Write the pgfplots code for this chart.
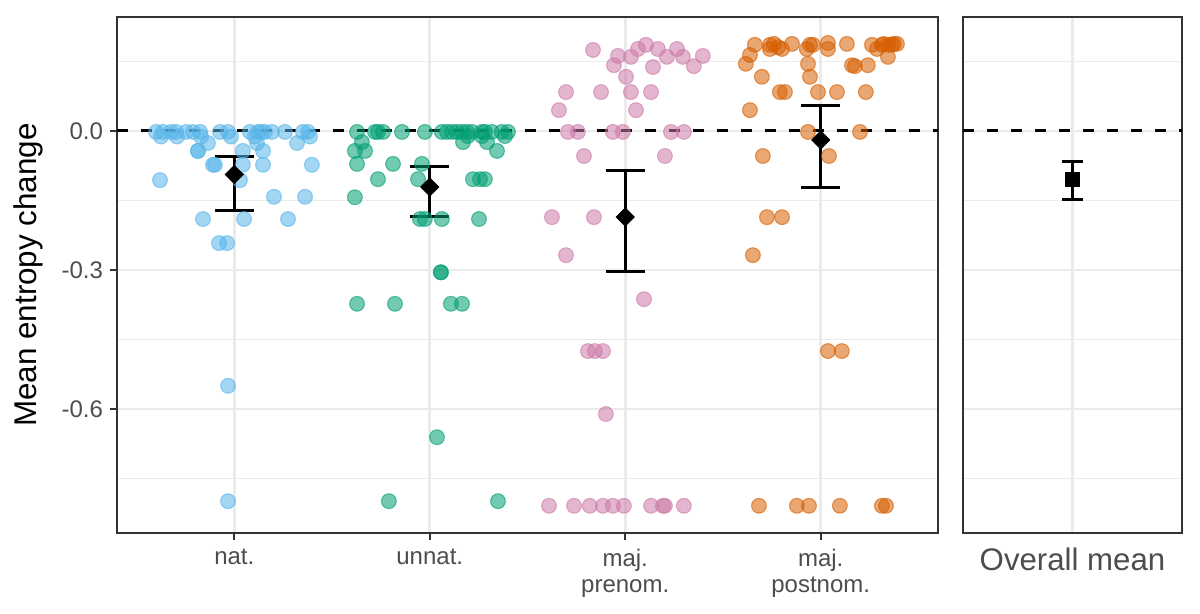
\documentclass[border=0pt]{standalone}
\usepackage{fontspec}
\setmainfont{Liberation Sans}
\usepackage{pgfplots}
\usepackage{pgfplotstable}
\pgfplotsset{compat=1.18}
\definecolor{cnat}{HTML}{56B4E9}
\definecolor{cunnat}{HTML}{009E73}
\definecolor{cpre}{HTML}{CC79A7}
\definecolor{cpost}{HTML}{D55E00}
\definecolor{gray20}{HTML}{333333}
\definecolor{gray30}{HTML}{4D4D4D}
\definecolor{grid92}{HTML}{EBEBEB}

\pgfplotstableread{
x y
0.600 -0.002
0.635 -0.002
0.676 -0.002
0.702 -0.002
0.753 -0.002
0.789 -0.002
0.825 -0.002
0.927 -0.002
0.968 -0.002
1.080 -0.002
1.121 -0.002
1.137 -0.002
1.157 -0.002
1.193 -0.002
1.259 -0.002
1.351 -0.002
1.377 -0.002
0.625 -0.012
0.707 -0.012
0.830 -0.012
0.983 -0.012
1.106 -0.012
1.387 -0.012
0.865 -0.026
1.116 -0.026
1.321 -0.026
0.814 -0.043
0.814 -0.043
1.044 -0.043
1.147 -0.043
0.891 -0.073
0.901 -0.073
1.044 -0.073
1.147 -0.073
1.397 -0.073
0.620 -0.106
1.029 -0.106
1.203 -0.142
1.362 -0.142
0.840 -0.190
1.050 -0.190
1.275 -0.190
0.922 -0.242
0.963 -0.242
0.968 -0.550
0.968 -0.799
}\nat

\pgfplotstableread{
x y
1.628 -0.002
1.720 -0.002
1.735 -0.002
1.761 -0.002
1.858 -0.002
1.975 -0.002
2.062 -0.002
2.088 -0.002
2.114 -0.002
2.139 -0.002
2.165 -0.002
2.190 -0.002
2.216 -0.002
2.267 -0.002
2.282 -0.002
2.318 -0.002
2.369 -0.002
2.400 -0.002
2.195 -0.011
2.267 -0.011
2.385 -0.011
1.653 -0.024
2.170 -0.024
2.293 -0.024
1.617 -0.043
1.669 -0.043
2.344 -0.043
1.628 -0.071
1.812 -0.071
1.960 -0.071
1.735 -0.104
1.940 -0.104
2.221 -0.104
2.257 -0.104
2.282 -0.104
1.617 -0.143
1.950 -0.190
1.975 -0.190
2.062 -0.190
2.252 -0.190
2.057 -0.305
2.057 -0.305
1.628 -0.373
1.822 -0.373
2.108 -0.373
2.165 -0.373
2.037 -0.661
1.791 -0.799
2.349 -0.799
}\unnat

\pgfplotstableread{
x y
3.106 0.186
2.835 0.175
3.065 0.177
3.167 0.177
3.265 0.177
2.963 0.162
3.029 0.160
3.213 0.160
3.295 0.160
3.397 0.162
2.942 0.142
3.142 0.138
3.351 0.140
3.004 0.117
2.697 0.084
2.876 0.084
3.029 0.084
3.132 0.084
2.661 0.045
3.055 0.045
2.707 -0.002
2.758 -0.002
2.937 -0.002
2.988 -0.002
3.234 -0.002
3.300 -0.002
2.789 -0.054
3.203 -0.054
2.625 -0.186
2.840 -0.186
2.697 -0.268
3.096 -0.363
2.809 -0.475
2.845 -0.475
2.886 -0.475
2.901 -0.611
2.610 -0.809
2.738 -0.809
2.819 -0.809
2.886 -0.809
2.937 -0.809
2.993 -0.809
3.132 -0.809
3.193 -0.809
3.203 -0.809
3.300 -0.809
}\prenom

\pgfplotstableread{
x y
3.663 0.186
3.740 0.186
3.761 0.188
3.781 0.181
3.853 0.188
3.945 0.186
3.960 0.186
4.037 0.190
4.134 0.188
4.262 0.186
4.313 0.186
4.323 0.188
4.344 0.186
4.364 0.186
4.374 0.188
4.390 0.188
3.740 0.177
3.802 0.177
3.929 0.177
4.037 0.177
4.288 0.177
3.638 0.164
4.344 0.160
3.617 0.145
3.935 0.145
4.160 0.142
4.175 0.140
4.241 0.142
3.699 0.117
3.945 0.117
3.791 0.084
3.817 0.084
3.986 0.084
4.083 0.084
4.231 0.084
3.638 0.045
3.935 -0.002
4.201 -0.002
3.704 -0.054
4.042 -0.054
3.725 -0.186
3.802 -0.186
3.653 -0.268
4.037 -0.475
4.108 -0.475
3.684 -0.809
3.878 -0.809
3.940 -0.809
4.098 -0.809
4.313 -0.809
4.334 -0.809
}\postnom

\pgfplotsset{
  panel/.style={
    scale only axis, anchor=south west, height=258pt,
    ymin=-0.8677, ymax=0.2461,
    axis line style={draw=gray20, line width=0.9pt},
    grid=both,
    major grid style={draw=grid92, line width=1.3pt},
    minor grid style={draw=grid92, line width=0.7pt},
    ytick={-0.6,-0.3,0}, minor ytick={-0.75,-0.45,-0.15,0.15},
    minor tick length=0pt,
    tick align=outside, tick pos=left,
    major tick style={draw=gray20, line width=1pt},
    major tick length=3.5pt,
    unbounded coords=jump,
  },
  pts/.style={only marks, mark=*, mark size=3.7pt,
    mark options={draw=#1, fill=#1, line width=0.55pt, fill opacity=0.55, draw opacity=0.6}},
}

\begin{document}
\begin{tikzpicture}
\path[use as bounding box] (0,0) rectangle (600pt,307pt);

\begin{axis}[panel,
  at={(58.5pt,40.5pt)}, width=410.5pt,
  xmin=0.4, xmax=4.6,
  xtick={1,2,3,4},
  xticklabels={nat.,unnat.,{maj.\\prenom.},{maj.\\postnom.}},
  yticklabels={-0.6,-0.3,0.0},
  xticklabel style={align=center, font=\fontsize{12}{13}\selectfont, text=gray30, yshift=-1pt},
  yticklabel style={font=\fontsize{12}{13}\selectfont, text=gray30},
  ylabel={Mean entropy change},
  every axis y label/.style={at={(axis description cs:-0.1084,0.5)}, rotate=90, anchor=center, font=\fontsize{15.7}{18}\selectfont, text=black},
]
\addplot[pts=cnat] table[x=x,y=y] {\nat};
\addplot[pts=cunnat] table[x=x,y=y] {\unnat};
\addplot[pts=cpre] table[x=x,y=y] {\prenom};
\addplot[pts=cpost] table[x=x,y=y] {\postnom};
\addplot[black, line width=1.5pt, dash pattern=on 5.5pt off 6.5pt] coordinates {(0.4,0) (4.6,0)};
\addplot[black, line width=1.5pt, mark=none] coordinates {
(0.9,-0.0546) (1.1,-0.0546) (1,nan) (1,-0.0546) (1,-0.171) (1,nan) (0.9,-0.171) (1.1,-0.171) (1,nan)
(1.9,-0.0777) (2.1,-0.0777) (2,nan) (2,-0.0777) (2,-0.1835) (2,nan) (1.9,-0.1835) (2.1,-0.1835) (2,nan)
(2.9,-0.0863) (3.1,-0.0863) (3,nan) (3,-0.0863) (3,-0.3043) (3,nan) (2.9,-0.3043) (3.1,-0.3043) (3,nan)
(3.9,0.0561) (4.1,0.0561) (4,nan) (4,0.0561) (4,-0.1223) (4,nan) (3.9,-0.1223) (4.1,-0.1223)
};
\addplot[only marks, mark=square*, mark size=3.2pt, mark options={rotate=45, fill=black, draw=black}] coordinates {
(1,-0.094) (2,-0.121) (3,-0.1856) (4,-0.0194)
};
\end{axis}

\begin{axis}[panel,
  at={(481.5pt,40.5pt)}, width=109.5pt,
  xmin=0.4, xmax=1.6,
  xtick={1}, xticklabels={Overall mean},
  yticklabels={,,},
  major tick length=0pt,
  xticklabel style={font=\fontsize{15.6}{18}\selectfont, text=gray30, yshift=-4pt},
]
\addplot[black, line width=1.5pt, dash pattern=on 5.5pt off 6.5pt] coordinates {(0.4,0) (1.6,0)};
\addplot[black, line width=1.5pt, mark=none] coordinates {
(0.945,-0.0662) (1.055,-0.0662) (1,nan) (1,-0.0662) (1,-0.1468) (1,nan) (0.945,-0.1468) (1.055,-0.1468)
};
\addplot[only marks, mark=square*, mark size=3.5pt, mark options={fill=black, draw=black}] coordinates {(1,-0.1036)};
\end{axis}
\end{tikzpicture}
\end{document}
